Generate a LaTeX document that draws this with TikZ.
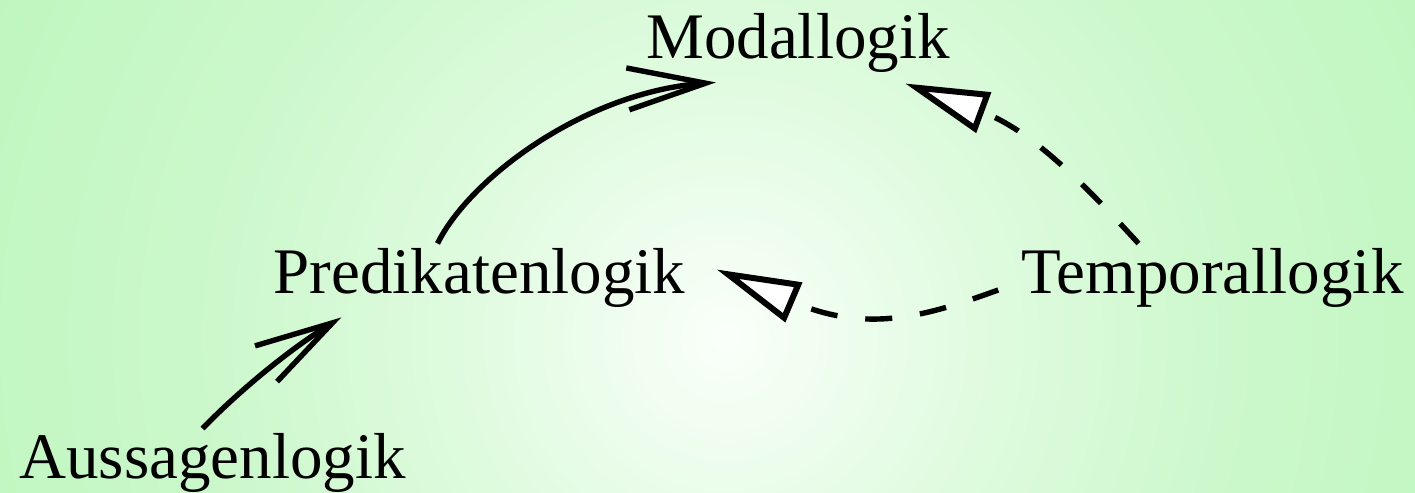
\documentclass[tikz,border=0pt]{standalone}
\usepackage{fontspec}
\setmainfont{Liberation Serif}
\usetikzlibrary{arrows.meta}

% soft green glow behind the diagram
\definecolor{glowA}{RGB}{250,255,250}
\definecolor{glowB}{RGB}{224,251,224}
\definecolor{glowC}{RGB}{204,248,204}
\definecolor{glowD}{RGB}{184,245,184}
\definecolor{glowE}{RGB}{164,241,164}
\pgfdeclareradialshading{glow}{\pgfpoint{0bp}{0bp}}{%
  color(0bp)=(glowA); color(8bp)=(glowB); color(16bp)=(glowC);
  color(30bp)=(glowD); color(50bp)=(glowE)}

\begin{document}
\begin{tikzpicture}[x=0.5pt,y=-0.5pt,
  logic/.style={font=\fontsize{32.5}{39}\selectfont, inner sep=2pt, anchor=base},
  uses/.style={line width=2.7pt, -{Straight Barb[sharp, length=39pt, width=21pt]}},
  extends/.style={line width=2.7pt, dash pattern=on 13.5pt off 14pt,
    -{Triangle[length=42pt, width=21pt, fill=white, line width=3pt]}}]
\useasboundingbox (0,0) rectangle (1415,493);
\fill[glowE] (0,0) rectangle (1415,493);
\begin{scope}
  \clip (0,0) rectangle (1415,493);
  \shade[shading=glow] (725,338) circle (800);
\end{scope}

% logics
\node[logic] (M) at (798,58)    {Modallogik};
\node[logic] (P) at (479.5,293) {Predikatenlogik};
\node[logic] (T) at (1212.5,293){Temporallogik};
\node[logic] (A) at (212.5,478) {Aussagenlogik};

% extensions (open arrows)
\draw[uses] ([xshift=-5pt]A.north) .. controls (240,390) and (290,349)
  .. ([xshift=36pt,yshift=-3pt]P.south west);
\draw[uses] ([xshift=-21pt]P.north) .. controls (470,178) and (585,92)
  .. ([xshift=37pt,yshift=-3pt]M.south west);

% generalisations (dashed, hollow triangles)
\draw[extends] ([xshift=-37pt]T.north) .. controls (1078,177) and (1028,129)
  .. ([xshift=-24.5pt,yshift=-3.5pt]M.south east);
\draw[extends] ([xshift=-9.5pt,yshift=1.5pt]T.base west) .. controls (926,316) and (868,334)
  .. ([xshift=13.5pt,yshift=4pt]P.east);
\end{tikzpicture}
\end{document}
